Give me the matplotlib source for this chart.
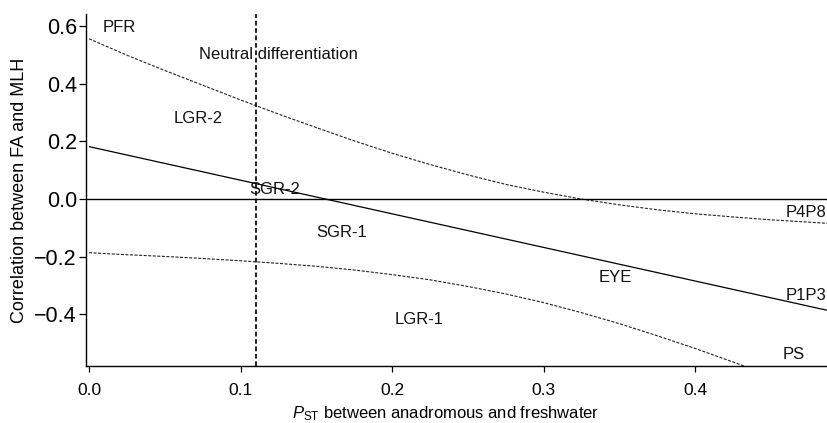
import matplotlib
matplotlib.use("Agg")
import matplotlib.pyplot as plt

plt.rcParams['font.family'] = ['Liberation Sans', 'DejaVu Sans']
plt.rcParams['mathtext.fontset'] = 'custom'
plt.rcParams['mathtext.rm'] = 'Liberation Sans'
plt.rcParams['mathtext.it'] = 'Liberation Sans:italic'

# Data
reg_x = [0.0, 0.49]
reg_y = [0.182, -0.389]

band_x = [0.000, 0.025, 0.050, 0.075, 0.100, 0.125, 0.150, 0.175, 0.200, 0.225,
          0.250, 0.275, 0.300, 0.325, 0.350, 0.375, 0.400, 0.425, 0.450, 0.475, 0.490]
upper_y = [0.556, 0.499, 0.446, 0.395, 0.344, 0.295, 0.248, 0.202, 0.159, 0.120,
           0.084, 0.051, 0.024, 0.000, -0.020, -0.037, -0.051, -0.062, -0.072, -0.080, -0.085]
lower_y = [-0.186, -0.193, -0.199, -0.206, -0.214, -0.223, -0.233, -0.246, -0.262, -0.280,
           -0.303, -0.329, -0.359, -0.394, -0.432, -0.474, -0.518, -0.565, -0.613, -0.663, -0.694]

neutral_x = 0.11

labels = ['PFR', 'Neutral differentiation', 'LGR-2', 'SGR-2', 'SGR-1', 'LGR-1',
          'EYE', 'P4P8', 'P1P3', 'PS']
label_x = [0.009, 0.0728, 0.0557, 0.1058, 0.1503, 0.202, 0.3366, 0.4600, 0.4600, 0.4579]
label_y = [0.578, 0.485, 0.2626, 0.0173, -0.133, -0.4336, -0.287, -0.0635, -0.350, -0.556]

xticks = [0.0, 0.1, 0.2, 0.3, 0.4]
yticks = [-0.4, -0.2, 0.0, 0.2, 0.4, 0.6]

fig = plt.figure(figsize=(8.27, 4.23), dpi=100)
ax = fig.add_axes([86/827, 1-366/423, 741/827, 352/423])

ax.plot(reg_x, reg_y, color='black', lw=0.9, solid_capstyle='butt')
ax.plot(band_x, upper_y, color='#222222', lw=0.8, linestyle=(0, (2.7, 1.4)))
ax.plot(band_x, lower_y, color='#222222', lw=0.8, linestyle=(0, (2.7, 1.4)))
ax.axhline(0.0, color='black', lw=1.0)
ax.axvline(neutral_x, color='#111111', lw=1.3, linestyle=(0, (2.6, 1.5)))

for t, x, y in zip(labels, label_x, label_y):
    ax.text(x, y, t, fontsize=12, ha='left', va='baseline', color='#111111')

ax.set_xlim(-0.002, 0.4871)
ax.set_ylim(-0.579, 0.642)
ax.set_xticks(xticks)
ax.set_xticklabels([f"{v:.1f}" for v in xticks])
ax.set_yticks(yticks)
ax.set_yticklabels([f"{v:.1f}".replace('-', '\u2212') for v in yticks])

for s in ['top', 'right']:
    ax.spines[s].set_visible(False)
for s in ['left', 'bottom']:
    ax.spines[s].set_linewidth(1.0)

ax.tick_params(axis='x', labelsize=12.5, length=4.5, width=0.9, pad=8, direction='out')
ax.tick_params(axis='y', labelsize=15.5, length=5, width=0.9, pad=1.5, direction='out')

ax.set_xlabel(r'$P_{\mathrm{ST}}$ between anadromous and freshwater', fontsize=12)
ax.set_ylabel('Correlation between FA and MLH', fontsize=13)
ax.xaxis.set_label_coords(0.486, -0.11)
ax.yaxis.set_label_coords(-0.078, 0.5)

fig.savefig('out.png', dpi=100)
